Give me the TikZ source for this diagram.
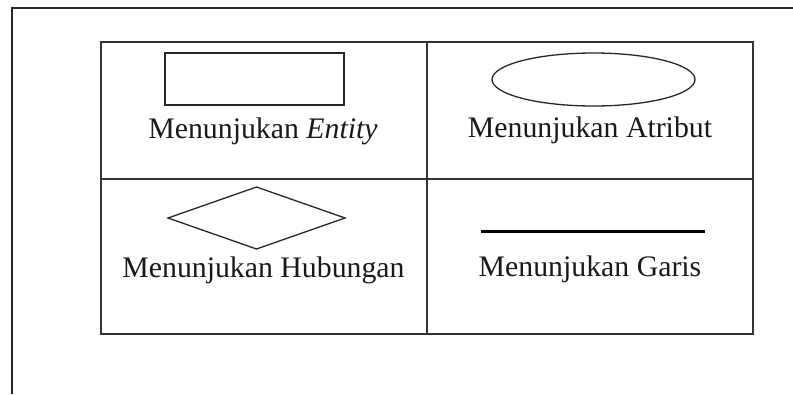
\documentclass[tikz,border=0pt]{standalone}
\usepackage{fontspec}
\setmainfont{Liberation Serif}
\begin{document}
\begin{tikzpicture}[x=1pt,y=-1pt,
  frame/.style={line width=1.3pt,draw=black!85},
  grid/.style={line width=1.6pt,draw=black!80},
  shapeline/.style={line width=1.3pt,draw=black!85},
  lbl/.style={anchor=base,inner sep=0pt,font=\fontsize{29.8}{35}\selectfont,text=black!90}]
\useasboundingbox (0,0) rectangle (793,394);
% outer frame
\coordinate (ftr) at (793,8);
\coordinate (ftl) at (12,8);
\coordinate (fbl) at (12,394);
\draw[frame] (ftr) -- (ftl) -- (fbl);
% table
\coordinate (tl) at (101,42);
\coordinate (br) at (753,334);
\coordinate (mt) at (427,42);
\coordinate (mb) at (427,334);
\coordinate (ml) at (101,179);
\coordinate (mr) at (753,179);
\draw[grid] (tl) rectangle (br);
\draw[grid] (mt) -- (mb);
\draw[grid] (ml) -- (mr);
% entity
\node[draw,shapeline,rectangle,minimum width=179pt,minimum height=52pt,inner sep=0pt] (ent) at (254.5,79) {};
\node[lbl] (entl) at (263,138) {Menunjukan \textit{Entity}};
% attribute
\draw[shapeline] (593.5,79.5) ellipse [x radius=101.5, y radius=26.5];
\node[lbl] (attl) at (590,137) {Menunjukan Atribut};
% relationship
\coordinate (dl) at (168,218);
\coordinate (dt) at (256.5,187);
\coordinate (dr) at (345,218);
\coordinate (db) at (256.5,249);
\draw[shapeline,line join=miter] (dl) -- (dt) -- (dr) -- (db) -- cycle;
\node[lbl] (hubl) at (263.5,277) {Menunjukan Hubungan};
% line
\coordinate (g1) at (481,231);
\coordinate (g2) at (705,231);
\draw[line width=3pt] (g1) -- (g2);
\node[lbl] (garl) at (590,276) {Menunjukan Garis};
\end{tikzpicture}
\end{document}
